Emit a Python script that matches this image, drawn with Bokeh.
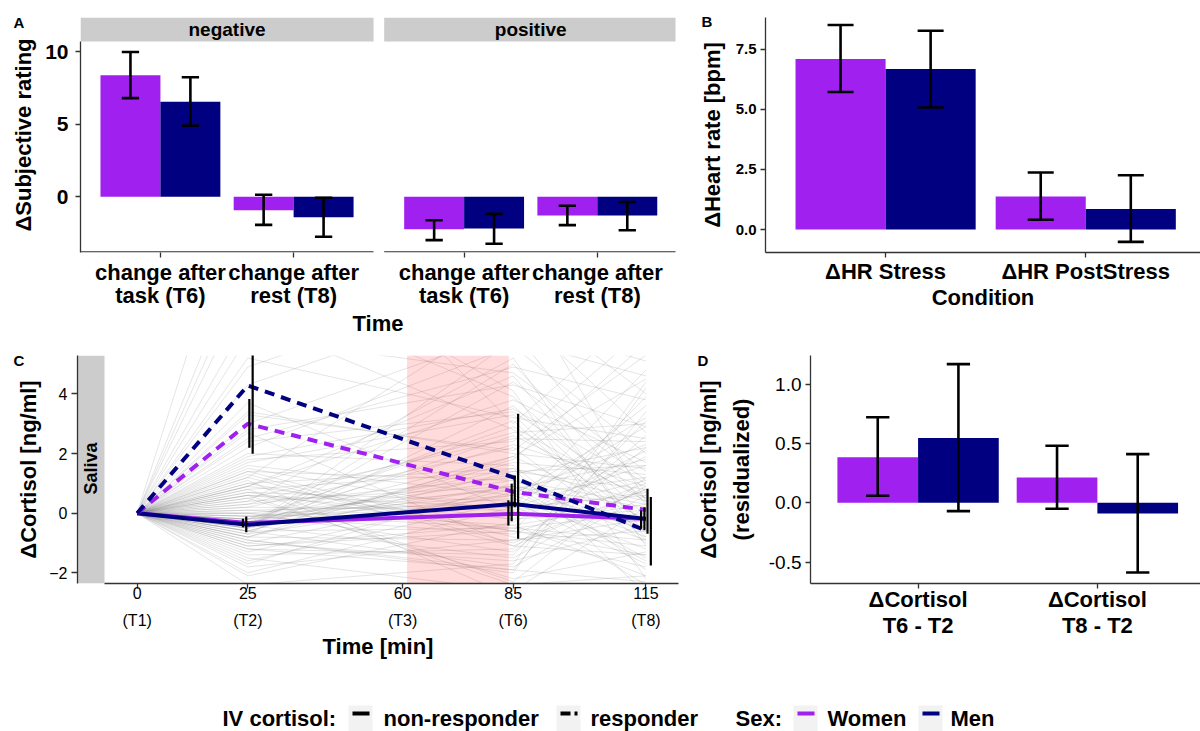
import numpy as np
from bokeh.plotting import figure
from bokeh.models import Range1d, FixedTicker, Label
from bokeh.layouts import column, row
from bokeh.embed import file_html
from bokeh.resources import INLINE
from bokeh.core.properties import value

FONT = "Liberation Sans"
PURPLE = "#A020F0"
NAVY = "#000080"
AXC = "#333333"
STRIP = "#cccccc"

# ---------------- data ----------------
a_facets = ["negative", "positive"]
a_times = ["change after\ntask (T6)", "change after\nrest (T8)"]
a_women = [8.38, -0.94, -2.25, -1.30]
a_women_lo = [6.80, -1.94, -2.99, -1.96]
a_women_hi = [9.98, 0.14, -1.62, -0.62]
a_men = [6.55, -1.42, -2.19, -1.30]
a_men_lo = [4.90, -2.76, -3.24, -2.31]
a_men_hi = [8.24, -0.07, -1.18, -0.36]
a_yticks = [0, 5, 10]

b_conditions = ["\u0394HR Stress", "\u0394HR PostStress"]
b_women = [7.09, 1.38]
b_women_lo = [5.72, 0.41]
b_women_hi = [8.50, 2.37]
b_men = [6.67, 0.86]
b_men_lo = [5.07, -0.51]
b_men_hi = [8.26, 2.26]
b_yticks = [0.0, 2.5, 5.0, 7.5]

c_times = [0, 25, 85, 115]
c_tick_vals = [0, 25, 60, 85, 115]
c_tick_labels = ["0\n(T1)", "25\n(T2)", "60\n(T3)", "85\n(T6)", "115\n(T8)"]
c_yticks = [-2, 0, 2, 4]
c_stress_window = [61, 84]
c_nonresp_women = [0, -0.33, -0.02, -0.19]
c_nonresp_men = [0, -0.39, 0.31, -0.19]
c_resp_women = [0, 3.00, 0.72, 0.11]
c_resp_men = [0, 4.28, 1.20, -0.58]
c_err_times = [25, 85, 115]
c_nrw_lo = [-0.47, -0.41, -0.52]
c_nrw_hi = [-0.19, 0.43, 0.09]
c_nrm_lo = [-0.64, -0.27, -0.56]
c_nrm_hi = [-0.11, 0.99, 0.20]
c_rw_lo = [2.19, 0.20, -0.69]
c_rw_hi = [3.83, 1.26, 0.82]
c_rm_lo = [1.99, -0.86, -1.75]
c_rm_hi = [6.60, 3.33, 0.54]
ind_t25 = [0.3, -0.4, 0.9, -1.1, 1.6, -0.2, 0.5, -0.8, 2.2, -1.8, 0.1, -0.5, 3.3, -0.6, 1.2,
           -1.0, 0.7, -0.3, 5.9, -1.5, 1.0, -0.1, 2.7, -0.7, 1.8, -2.1, 0.4, -0.9, 7.6, -1.3,
           1.4, -0.4, 4.3, -0.2, 0.8, -1.6, 9.1, 0.0, -0.6, 1.7, -1.2, 3.0, -0.3, 0.6, -2.4,
           6.5, -0.8, 1.1, -0.5, 3.7, 0.2, -1.4, 11.8, 0.9, -0.1, 2.0, -0.9, 4.9, -0.2, 0.5,
           0.1, -0.7, 1.3, -0.3, 0.6, -1.1, 2.4, 0.0, -0.5, 1.5,
           0.4, -0.6, 1.0, -0.2, 2.5, -1.0, 0.7, -0.3, 1.9, -0.8, 0.2, 3.4, -0.5, 0.9, -1.7,
           0.6, -0.1, 5.2, -0.4, 1.2, -2.0, 0.3, 8.3, -0.6, 1.4, 0.0, -1.2, 2.8, -0.3, 0.8]
ind_t85 = [1.2, -1.5, 3.8, -0.4, 0.6, 2.9, -2.2, 1.9, 5.6, -0.9, 0.3, 4.4, 2.1, -1.8, 6.8,
           0.8, -0.6, 3.1, 4.7, -2.6, 1.5, 0.2, -1.1, 3.6, 2.4, -0.3, 5.2, -1.9, 3.9, 0.7,
           -0.8, 2.6, 7.4, 1.1, -2.3, 0.4, 4.1, -0.5, 1.8, 3.3, -1.4, 6.1, 0.9, -0.2, -1.7,
           2.8, 1.4, -2.8, 5.0, 0.1, 2.2, -1.2, 3.0, 4.6, -0.7, 1.6, -2.0, 8.0, 0.5, 2.5,
           -0.4, 0.6, -1.0, 1.9, 0.2, -0.6, 3.4, -1.3, 0.9, 0.0,
           0.9, 1.7, -0.6, 2.3, 4.9, -1.6, 0.4, 1.3, 3.5, -0.9, 0.1, 2.0, 5.8, -0.2, 1.0,
           -2.4, 0.6, 3.2, 1.5, -1.1, 0.2, 2.7, 6.4, -0.5, 1.1, 0.8, -1.9, 4.3, 0.0, 1.4]
ind_t115 = [-0.5, 0.9, 1.7, -2.1, 3.2, 0.4, -1.3, 4.5, 2.0, -0.2, -2.4, 1.1, 5.3, 0.6, 2.7,
            -1.6, 3.9, -0.9, 1.4, 0.2, -2.7, 4.8, 0.8, -0.4, 6.2, 1.9, -1.1, 3.4, -0.1, 2.3,
            -1.8, 0.5, 4.0, -0.6, 1.2, 2.9, -2.2, 0.0, 5.7, -0.8, 3.1, 0.7, -1.5, 2.1, 4.4,
            -0.3, 1.6, -2.5, 0.3, 3.6, -1.0, 2.6, 6.9, -0.7, 1.0, -1.9, 4.2, 0.4, -1.2, 2.4,
            0.3, -0.9, 0.8, -0.2, 1.6, -1.4, 0.5, 2.2, -0.6, 1.1,
            0.2, 1.3, -1.1, 0.9, 3.8, -0.4, -1.7, 2.2, 1.0, -0.6, 0.7, 1.5, 4.6, 0.1, -0.8,
            -2.1, 1.2, 2.5, 0.4, -1.4, 0.6, 3.0, 5.1, -0.9, 0.3, 1.8, -2.3, 2.9, -0.3, 0.8]

d_conditions = ["\u0394Cortisol\nT6 - T2", "\u0394Cortisol\nT8 - T2"]
d_women = [0.384, 0.213]
d_women_lo = [0.059, -0.05]
d_women_hi = [0.721, 0.48]
d_men = [0.545, -0.09]
d_men_lo = [-0.07, -0.587]
d_men_hi = [1.168, 0.41]
d_yticks = [-0.5, 0.0, 0.5, 1.0]

legend_iv_title = "IV cortisol:"
legend_iv_labels = ["non-responder", "responder"]
legend_sex_title = "Sex:"
legend_sex_labels = ["Women", "Men"]


def base_fig(width, height, xr, yr, ml, mr, mt, mb):
    p = figure(width=width, height=height, x_range=Range1d(*xr), y_range=Range1d(*yr),
               output_backend="svg", toolbar_location=None,
               min_border_left=ml, min_border_right=mr, min_border_top=mt, min_border_bottom=mb)
    p.grid.grid_line_color = None
    p.outline_line_color = None
    for ax in (p.xaxis[0], p.yaxis[0]):
        ax.axis_line_color = AXC
        ax.axis_line_width = 1.3
        ax.major_tick_line_color = AXC
        ax.major_tick_line_width = 1.3
        ax.major_tick_out = 5
        ax.major_tick_in = 0
        ax.minor_tick_line_color = None
        ax.major_label_text_font = FONT
        ax.major_label_text_color = "black"
        ax.axis_label_text_font = FONT
        ax.axis_label_text_font_style = "bold"
        ax.axis_label_text_font_size = "22px"
        ax.axis_label_text_color = "black"
    return p


def errorbars(p, xs, lo, hi, cap, lw):
    p.segment(x0=xs, x1=xs, y0=lo, y1=hi, line_color="black", line_width=lw)
    if cap:
        x0 = [x - cap / 2 for x in xs]
        x1 = [x + cap / 2 for x in xs]
        p.segment(x0=x0, x1=x1, y0=lo, y1=lo, line_color="black", line_width=lw)
        p.segment(x0=x0, x1=x1, y0=hi, y1=hi, line_color="black", line_width=lw)


def panel_letter(p, dx, dy, t):
    # in the top side panel (so it is not clipped to the frame);
    # dx: px from the frame's left edge, dy: px above the frame's top edge
    p.add_layout(Label(x=dx, y=dy, x_units="screen", y_units="screen", text=t,
                       text_font=FONT, text_font_size="15px", text_font_style="bold",
                       text_baseline="middle", text_align="left", text_color="black"), "above")


BW = 0.45
CAP = 0.13
TOP1 = 17          # frame top of first row (page px)
TOP2 = 355         # frame top of second row (page px)

# ---------------- Panel A ----------------
a_px = 133.2
a_py = 14.56
a_off = 2.28
a_pos = [1, 2, 1 + a_off, 2 + a_off]
a_ybot = -56 / a_py
a_ytop = (197 - TOP1) / a_py
a_strip = 156 / a_py
pA = base_fig(696, 338, (0.4, 0.4 + 595 / a_px), (a_ybot, a_ytop), 80, 21, TOP1, 85)
pA.quad(left=[0.4, 0.4 + a_off], right=[2.6, 2.6 + a_off], bottom=a_strip, top=a_ytop,
        fill_color=STRIP, line_color=None)
pA.text(x=[1.5, 1.5 + a_off], y=[(a_strip + a_ytop) / 2] * 2, text=a_facets,
        text_font=value(FONT), text_font_size="19px", text_font_style="bold",
        text_align="center", text_baseline="middle", text_color="black")
xw = [x - BW / 2 for x in a_pos]
xm = [x + BW / 2 for x in a_pos]
pA.vbar(x=xw, width=BW, top=a_women, bottom=0, fill_color=PURPLE, line_color=None)
pA.vbar(x=xm, width=BW, top=a_men, bottom=0, fill_color=NAVY, line_color=None)
errorbars(pA, xw, a_women_lo, a_women_hi, CAP, 2.6)
errorbars(pA, xm, a_men_lo, a_men_hi, CAP, 2.6)
pA.segment(x0=[0.4, 0.4 + a_off], x1=[2.6, 2.6 + a_off], y0=[a_ybot + 0.05] * 2,
           y1=[a_ybot + 0.05] * 2, line_color=AXC, line_width=1.3)
pA.xaxis.axis_line_color = None
pA.xaxis.ticker = FixedTicker(ticks=a_pos)
pA.xaxis.major_label_overrides = {x: t for x, t in zip(a_pos, a_times * 2)}
pA.xaxis.major_label_text_font_size = "22px"
pA.xaxis.major_label_text_font_style = "bold"
pA.xaxis.major_label_text_line_height = 0.92
pA.xaxis.major_label_standoff = 2
pA.xaxis.axis_label = "Time"
pA.xaxis.axis_label_standoff = 0
pA.yaxis.bounds = (a_ybot, a_strip)
pA.yaxis.ticker = FixedTicker(ticks=a_yticks)
pA.yaxis.major_label_text_font_size = "21px"
pA.yaxis.major_label_text_font_style = "bold"
pA.yaxis.major_label_standoff = 7
pA.yaxis.axis_label = "\u0394Subjective rating"
pA.yaxis.axis_label_standoff = 6
panel_letter(pA, 13 - 80, TOP1 - 22, "A")

# ---------------- Panel B ----------------
b_px = 202.0
b_py = 24.17
b_pos = [1, 2]
pB = base_fig(504, 338, (0.4, 0.4 + 439 / b_px), (-23 / b_py, (230 - TOP1) / b_py), 65, 0, TOP1, 85)
xw = [x - BW / 2 for x in b_pos]
xm = [x + BW / 2 for x in b_pos]
pB.vbar(x=xw, width=BW, top=b_women, bottom=0, fill_color=PURPLE, line_color=None)
pB.vbar(x=xm, width=BW, top=b_men, bottom=0, fill_color=NAVY, line_color=None)
errorbars(pB, xw, b_women_lo, b_women_hi, CAP, 2.6)
errorbars(pB, xm, b_men_lo, b_men_hi, CAP, 2.6)
pB.xaxis.ticker = FixedTicker(ticks=b_pos)
pB.xaxis.major_label_overrides = {x: t for x, t in zip(b_pos, b_conditions)}
pB.xaxis.major_label_text_font_size = "22px"
pB.xaxis.major_label_text_font_style = "bold"
pB.xaxis.major_label_standoff = 1
pB.xaxis.axis_label = "Condition"
pB.xaxis.axis_label_standoff = -2
pB.yaxis.ticker = FixedTicker(ticks=b_yticks)
pB.yaxis.major_label_overrides = {v: f"{v:.1f}" for v in b_yticks}
pB.yaxis.major_label_text_font_size = "15px"
pB.yaxis.major_label_text_font_style = "bold"
pB.yaxis.major_label_standoff = 4
pB.yaxis.axis_label = "\u0394Heart rate [bpm]"
pB.yaxis.axis_label_standoff = 8
panel_letter(pB, 697 - 761, TOP1 - 21, "B")

# ---------------- Panel C ----------------
c_px = 4.424
c_py = 29.83
c_x0 = 136.7
c_y0 = 512.7
c_xl = (77 - c_x0) / c_px
c_xr = (678 - c_x0) / c_px
c_strip_r = (104 - c_x0) / c_px
c_yb = -(583 - c_y0) / c_py
c_yt = (c_y0 - TOP2) / c_py
pC = base_fig(692, 330, (c_xl, c_xr), (c_yb, c_yt), 77, 14, TOP2 - 338, 85)
pC.quad(left=c_xl, right=c_strip_r, bottom=c_yb, top=c_yt, fill_color=STRIP, line_color=None)
pC.text(x=[(c_xl + c_strip_r) / 2], y=[1.5], text=["Saliva"], angle=np.pi / 2,
        text_font=value(FONT), text_font_size="18px", text_font_style="bold",
        text_align="center", text_baseline="middle", text_color="black")
ind_xs = [c_times] * len(ind_t25)
ind_ys = [[0, a, b, c] for a, b, c in zip(ind_t25, ind_t85, ind_t115)]
pC.multi_line(xs=ind_xs, ys=ind_ys, line_color="#7f7f7f", line_alpha=0.2, line_width=1)
pC.quad(left=c_stress_window[0], right=c_stress_window[1], bottom=c_yb, top=c_yt,
        fill_color="red", fill_alpha=0.14, line_color=None)
pC.line(c_times, c_nonresp_women, line_color=PURPLE, line_width=4)
pC.line(c_times, c_nonresp_men, line_color=NAVY, line_width=4)
pC.line(c_times, c_resp_women, line_color=PURPLE, line_width=4, line_dash="10 7")
pC.line(c_times, c_resp_men, line_color=NAVY, line_width=4, line_dash="10 7")
dodge = [-1.1, -0.35, 0.35, 1.1]
for d, lo, hi in zip(dodge, [c_nrw_lo, c_nrm_lo, c_rw_lo, c_rm_lo],
                     [c_nrw_hi, c_nrm_hi, c_rw_hi, c_rm_hi]):
    errorbars(pC, [t + d for t in c_err_times], lo, hi, 0, 2.2)
pC.xaxis.bounds = (c_strip_r, c_xr)
pC.xaxis.ticker = FixedTicker(ticks=c_tick_vals)
pC.xaxis.major_label_overrides = {x: t for x, t in zip(c_tick_vals, c_tick_labels)}
pC.xaxis.major_label_text_font_size = "16px"
pC.xaxis.major_label_text_line_height = 1.6
pC.xaxis.major_label_standoff = -4
pC.xaxis.axis_label = "Time [min]"
pC.xaxis.axis_label_standoff = 2
pC.yaxis.ticker = FixedTicker(ticks=c_yticks)
pC.yaxis.major_label_text_font_size = "16px"
pC.yaxis.major_tick_out = 6
pC.yaxis.major_label_standoff = 4
pC.yaxis.axis_label = "\u0394Cortisol [ng/ml]"
pC.yaxis.axis_label_standoff = 5
panel_letter(pC, 13 - 77, TOP2 - 360, "C")

# ---------------- Panel D ----------------
d_px = 179.3
d_py = 118.7
d_pos = [1, 2]
pD = base_fig(508, 330, (0.4, 0.4 + 390 / d_px), (-80.7 / d_py, (502.3 - TOP2) / d_py),
              118, 0, TOP2 - 338, 85)
xw = [x - BW / 2 for x in d_pos]
xm = [x + BW / 2 for x in d_pos]
pD.vbar(x=xw, width=BW, top=d_women, bottom=0, fill_color=PURPLE, line_color=None)
pD.vbar(x=xm, width=BW, top=d_men, bottom=0, fill_color=NAVY, line_color=None)
errorbars(pD, xw, d_women_lo, d_women_hi, CAP, 2.6)
errorbars(pD, xm, d_men_lo, d_men_hi, CAP, 2.6)
pD.xaxis.ticker = FixedTicker(ticks=d_pos)
pD.xaxis.major_label_overrides = {x: t for x, t in zip(d_pos, d_conditions)}
pD.xaxis.major_label_text_font_size = "22px"
pD.xaxis.major_label_text_font_style = "bold"
pD.xaxis.major_label_text_line_height = 1.04
pD.xaxis.major_label_standoff = -2
pD.yaxis.ticker = FixedTicker(ticks=d_yticks)
pD.yaxis.major_label_overrides = {v: f"{v:.1f}" for v in d_yticks}
pD.yaxis.major_label_text_font_size = "19px"
pD.yaxis.major_label_standoff = 4
pD.yaxis.axis_label = "\u0394Cortisol [ng/ml]\n(residualized)"
pD.yaxis.axis_label_text_line_height = 1.3
pD.yaxis.axis_label_standoff = 12
panel_letter(pD, 697 - 810, TOP2 - 360, "D")

# ---------------- Legend strip ----------------
pL = figure(width=1200, height=63, x_range=Range1d(0, 1200), y_range=Range1d(731, 668),
            output_backend="svg", toolbar_location=None,
            min_border_left=0, min_border_right=0, min_border_top=0, min_border_bottom=0)
pL.axis.visible = False
pL.grid.grid_line_color = None
pL.outline_line_color = None
ly = 713
key_left = [348, 556, 793, 918]
pL.quad(left=key_left, right=[k + 24 for k in key_left], bottom=[731] * 4, top=[705] * 4,
        fill_color="#f2f2f2", line_color=None)
pL.segment(x0=[352], x1=[369], y0=[ly], y1=[ly], line_color="black", line_width=4)
pL.segment(x0=[560], x1=[577], y0=[ly], y1=[ly], line_color="black", line_width=4, line_dash="10 4")
pL.segment(x0=[797], x1=[814], y0=[ly], y1=[ly], line_color=PURPLE, line_width=4)
pL.segment(x0=[922], x1=[939], y0=[ly], y1=[ly], line_color=NAVY, line_width=4)
leg_texts = [legend_iv_title] + legend_iv_labels + [legend_sex_title] + legend_sex_labels
leg_x = [222, 383, 590, 735, 827, 950]
pL.text(x=leg_x, y=[718] * 6, text=leg_texts, text_font=value(FONT),
        text_font_size="22px", text_font_style="bold", text_align="left",
        text_baseline="middle", text_color="black")

layout = column(row(pA, pB), row(pC, pD), pL)
open("out.html", "w").write(file_html(layout, INLINE))
